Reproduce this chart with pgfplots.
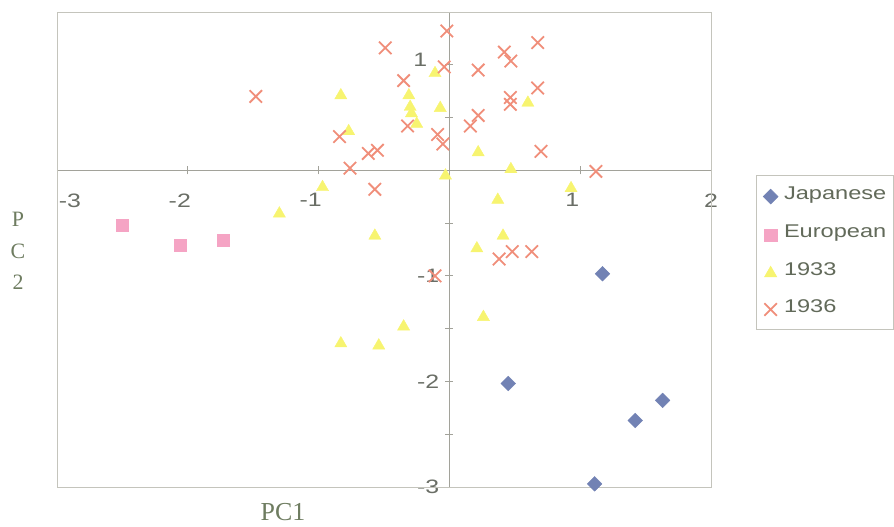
\documentclass[border=0pt]{standalone}
\usepackage{pgfplots}
\pgfplotsset{compat=1.18}
\usepackage{fontspec}
\setmainfont{Liberation Serif}
\newfontfamily\arialx[FakeStretch=1.28]{Liberation Sans}
\definecolor{boxgray}{HTML}{C4C4BC}
\definecolor{axisgray}{HTML}{A2A29A}
\definecolor{tickcolor}{HTML}{6A6E66}
\definecolor{labelcolor}{HTML}{6E7C60}
\definecolor{legtext}{HTML}{626A5A}
\definecolor{japblue}{HTML}{7282B4}
\definecolor{eurpink}{HTML}{F5A4C4}
\definecolor{yel}{HTML}{F7F470}
\definecolor{salmon}{HTML}{F08E7A}

\pgfplotstableread{
x y
1.17 -0.98
0.45 -2.02
1.42 -2.37
1.63 -2.18
1.11 -2.97
}\japanese

\pgfplotstableread{
x y
-2.50 -0.52
-2.06 -0.71
-1.73 -0.66
}\european

\pgfplotstableread{
x y
-0.83 0.71
-0.77 0.37
-0.31 0.71
-0.30 0.60
-0.29 0.54
-0.25 0.44
-0.11 0.92
-0.07 0.59
-0.03 -0.05
-0.97 -0.16
-1.30 -0.41
-0.57 -0.62
0.22 0.17
0.47 0.01
0.60 0.64
0.93 -0.17
0.37 -0.28
0.41 -0.62
0.21 -0.74
0.26 -1.39
-0.83 -1.64
-0.54 -1.66
-0.35 -1.48
}\yeara

\pgfplotstableread{
x y
-1.48 0.70
-0.49 1.16
-0.02 1.32
-0.04 0.98
-0.35 0.85
-0.32 0.42
-0.84 0.32
-0.62 0.16
-0.55 0.19
-0.76 0.02
-0.09 0.34
-0.05 0.25
-0.57 -0.18
0.22 0.95
0.42 1.12
0.47 1.035
0.675 1.21
0.675 0.78
0.466 0.69
0.466 0.625
0.22 0.52
0.16 0.42
0.70 0.18
1.12 -0.01
0.38 -0.84
0.48 -0.77
0.63 -0.77
-0.11 -1.00
}\yearb

\begin{document}
\begin{tikzpicture}
\begin{axis}[
  width=654bp, height=475bp, scale only axis,
  xmin=-3, xmax=2, ymin=-3, ymax=1.5,
  axis lines*=middle,
  axis line style={draw=axisgray, line width=0.8bp},
  clip=false,
  xtick={-3,-2,-1,0,1,2},
  xticklabels={\hspace*{42bp}-3,-2,-1,0,1,\hspace*{16bp}2},
  ytick={-3,-2,-1,1},
  yticklabels={-3,-2,-1,\raisebox{5bp}[\height][\depth]{1}\hspace*{12bp}},
  minor ytick={-2.5,-1.5,-0.5,0.5},
  tick align=center, major tick length=8bp, minor tick length=8bp,
  tick style={draw=axisgray, line width=0.8bp},
  xticklabel style={font=\arialx\fontsize{19.5}{20}\selectfont, text=tickcolor, inner sep=0pt, anchor=north, yshift=-19bp, xshift=-8bp},
  yticklabel style={font=\arialx\fontsize{19.5}{20}\selectfont, text=tickcolor, inner sep=0pt, anchor=east, xshift=-6bp},
  every axis x label/.style={at={(rel axis cs:0.3456,0)}, anchor=north, yshift=-16bp, inner sep=0pt, font=\fontsize{26}{26}\selectfont, text=labelcolor},
  every axis y label/.style={at={(rel axis cs:0,0.497)}, anchor=center, xshift=-39bp, align=center, inner sep=0pt, font=\fontsize{22}{32}\selectfont, text=labelcolor},
  xlabel={PC1},
  ylabel={P\\C\\2},
  legend cell align=left,
  legend style={at={(1.0688,0.657)}, anchor=north west, draw=boxgray, line width=0.6bp, fill=white,
    font=\arialx\fontsize{18.5}{18.5}\selectfont, text=legtext,
    inner xsep=7bp, inner ysep=14bp, row sep=25bp, column sep=6bp,
    nodes={inner sep=0pt, text depth=0.25em, text height=0.75em}},
]
\draw[boxgray, line width=0.8bp] (rel axis cs:0,0) rectangle (rel axis cs:1,1);
\coordinate (BL) at (rel axis cs:0,0);
\coordinate (TR) at (rel axis cs:1,1);
\addplot[only marks, mark=square*, mark size=5.2bp, mark options={rotate=45, fill=japblue, draw=japblue}] table {\japanese};
\addlegendentry{Japanese}
\addplot[only marks, mark=square*, mark size=6.2bp, mark options={fill=eurpink, draw=eurpink}] table {\european};
\addlegendentry{European}
\addplot[only marks, mark=triangle*, mark size=7bp, mark options={fill=yel, draw=yel}] table {\yeara};
\addlegendentry{1933}
\addplot[only marks, mark=x, mark size=8.8bp, mark options={draw=salmon, line width=1.8bp}] table {\yearb};
\addlegendentry{1936}
\end{axis}
\pgfresetboundingbox
\path ([shift={(-57bp,-40bp)}]BL) rectangle ([shift={(183bp,12bp)}]TR);
\end{tikzpicture}
\end{document}
